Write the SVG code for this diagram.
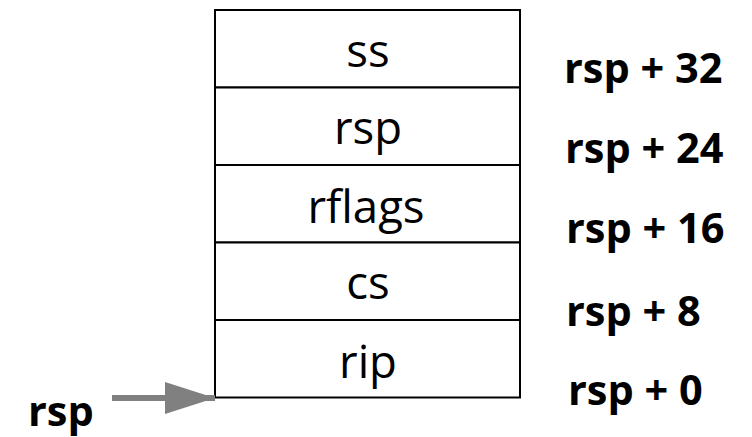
<svg xmlns="http://www.w3.org/2000/svg" width="752" height="437" viewBox="0 0 752 437">
  <style>
    .cell { fill: #ffffff; stroke: #000000; stroke-width: 2; }
    .slot { font-family: "Open Sans", "DejaVu Sans", sans-serif; font-size: 45.5px; fill: #000000; text-anchor: middle; }
    .off { font-family: "Open Sans", "DejaVu Sans", sans-serif; font-size: 41.5px; font-weight: bold; fill: #000000; }
    .ptr { stroke: #808080; stroke-width: 6; fill: none; }
  </style>
  <defs>
    <marker id="head" viewBox="0 0 50 32" refX="50" refY="16" markerUnits="userSpaceOnUse" markerWidth="50" markerHeight="32" orient="auto">
      <path d="M0,0 L50,16 L0,32 Z" fill="#808080"/>
    </marker>
  </defs>

  <!-- stack frame slots, top to bottom -->
  <g id="slot-ss">
    <rect class="cell" x="215" y="10" width="305" height="77.5"/>
    <text class="slot" x="368" y="67">ss</text>
  </g>
  <g id="slot-rsp">
    <rect class="cell" x="215" y="87.5" width="305" height="77.5"/>
    <text class="slot" x="368" y="144">rsp</text>
  </g>
  <g id="slot-rflags">
    <rect class="cell" x="215" y="165" width="305" height="77.5"/>
    <text class="slot" x="366" y="223">rflags</text>
  </g>
  <g id="slot-cs">
    <rect class="cell" x="215" y="242.5" width="305" height="77.5"/>
    <text class="slot" x="368" y="299">cs</text>
  </g>
  <g id="slot-rip">
    <rect class="cell" x="215" y="320" width="305" height="77.5"/>
    <text class="slot" x="368" y="378">rip</text>
  </g>

  <!-- offsets relative to rsp -->
  <g id="off-32"><text class="off" x="564" y="83">rsp + 32</text></g>
  <g id="off-24"><text class="off" x="565" y="163">rsp + 24</text></g>
  <g id="off-16"><text class="off" x="566" y="243">rsp + 16</text></g>
  <g id="off-8"><text class="off" x="566" y="326">rsp + 8</text></g>
  <g id="off-0"><text class="off" x="568" y="405">rsp + 0</text></g>

  <!-- stack pointer label -->
  <g id="rsp-label"><text class="off" x="28" y="426">rsp</text></g>

  <g id="connectors">
    <line class="ptr" x1="112" y1="398" x2="215" y2="398" marker-end="url(#head)"/>
  </g>
</svg>
